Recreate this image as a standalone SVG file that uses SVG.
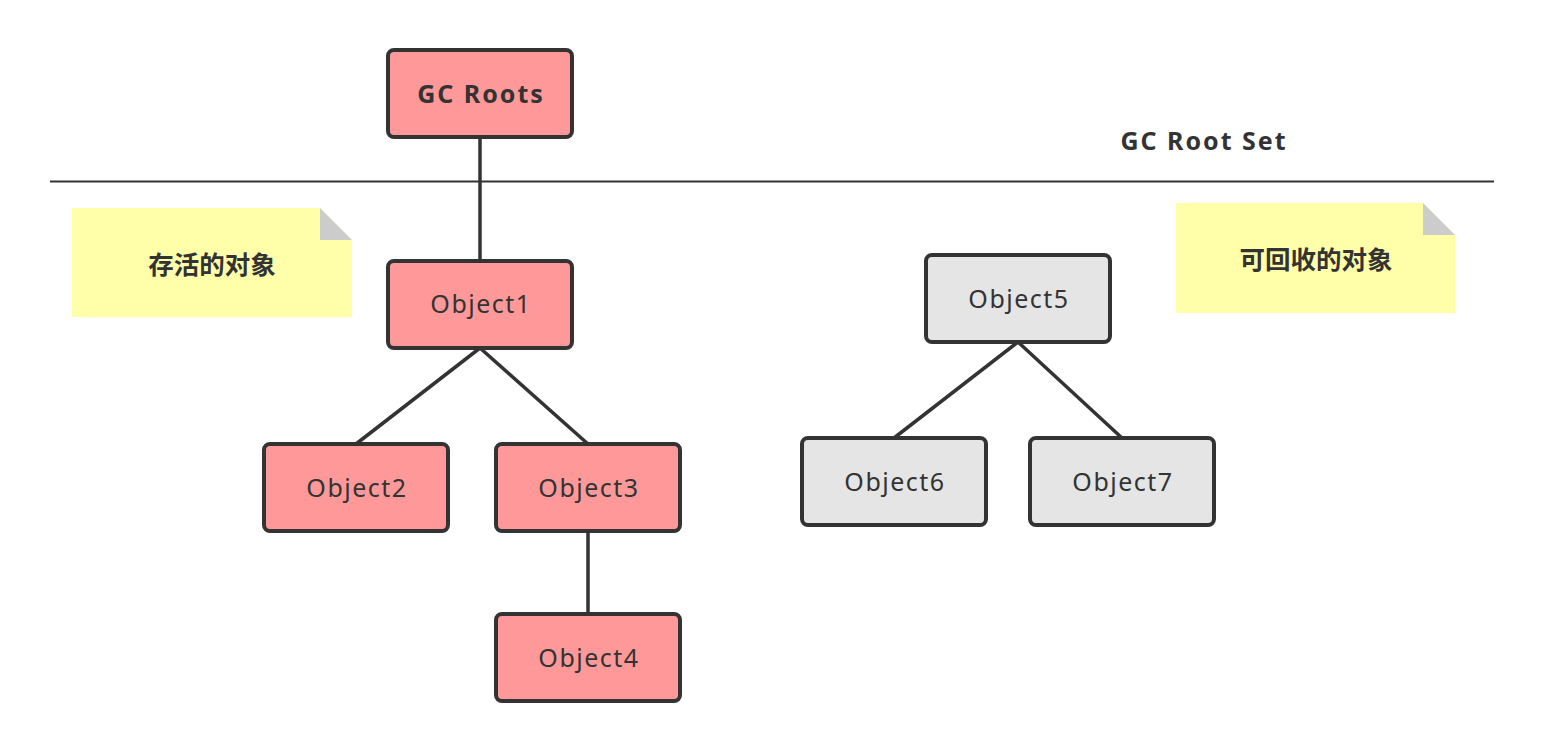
<svg xmlns="http://www.w3.org/2000/svg" width="1544" height="752" viewBox="0 0 1544 752">
<style>
.live{fill:#FF9999;stroke:#333333;stroke-width:4}
.dead{fill:#E5E5E5;stroke:#333333;stroke-width:4}
.lbl{font-family:"Noto Sans","Noto Sans CJK SC",sans-serif;font-size:25px;fill:#333333;text-anchor:middle;letter-spacing:1.5px}
.bold{font-weight:bold;letter-spacing:2px}
.cjk{font-family:"Noto Sans CJK SC",sans-serif;font-size:25.5px;letter-spacing:0}
.note{fill:#FFFFAA}
.fold{fill:#CCCCCC}
.conn line{stroke:#333333;stroke-width:3.5}
</style>
<rect width="1544" height="752" fill="#FFFFFF"/>
<line x1="50" y1="181.5" x2="1494" y2="181.5" stroke="#333333" stroke-width="2"/>
<text class="lbl bold" x="1204" y="150">GC Root Set</text>
<g class="conn">
<line x1="480" y1="137" x2="480" y2="261"/>
<line x1="480" y1="348" x2="356" y2="444"/>
<line x1="480" y1="348" x2="588" y2="444"/>
<line x1="588" y1="531" x2="588" y2="614"/>
<line x1="1018" y1="342" x2="894" y2="438"/>
<line x1="1018" y1="342" x2="1122" y2="438"/>
</g>
<g id="note1">
<path class="note" d="M72 208H320L352 240V317H72Z"/>
<path class="fold" d="M320 208L352 240H320Z"/>
<text class="lbl bold cjk" x="212" y="274">存活的对象</text>
</g>
<g id="note2">
<path class="note" d="M1176 203H1423L1455 235V313H1176Z"/>
<path class="fold" d="M1423 203L1455 235H1423Z"/>
<text class="lbl bold cjk" x="1316" y="269">可回收的对象</text>
</g>
<g id="gcroots"><rect class="live" x="388" y="50" width="184" height="87" rx="6"/><text class="lbl bold" x="481" y="103">GC Roots</text></g>
<g id="obj1"><rect class="live" x="388" y="261" width="184" height="87" rx="6"/><text class="lbl" x="481" y="313">Object1</text></g>
<g id="obj2"><rect class="live" x="264" y="444" width="184" height="87" rx="6"/><text class="lbl" x="357" y="497">Object2</text></g>
<g id="obj3"><rect class="live" x="496" y="444" width="184" height="87" rx="6"/><text class="lbl" x="589" y="497">Object3</text></g>
<g id="obj4"><rect class="live" x="496" y="614" width="184" height="87" rx="6"/><text class="lbl" x="589" y="667">Object4</text></g>
<g id="obj5"><rect class="dead" x="926" y="255" width="184" height="87" rx="6"/><text class="lbl" x="1019" y="308">Object5</text></g>
<g id="obj6"><rect class="dead" x="802" y="438" width="184" height="87" rx="6"/><text class="lbl" x="895" y="491">Object6</text></g>
<g id="obj7"><rect class="dead" x="1030" y="438" width="184" height="87" rx="6"/><text class="lbl" x="1123" y="491">Object7</text></g>
</svg>
